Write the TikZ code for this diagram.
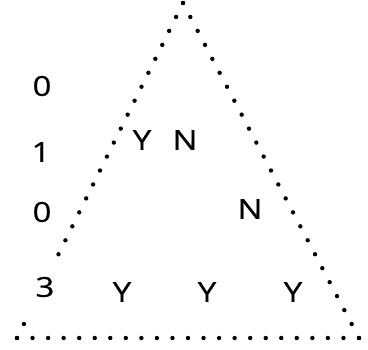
\documentclass[tikz,border=0pt]{standalone}
\usepackage{fontspec}
\setmainfont{Open Sans}[FakeStretch=1.2,FakeBold=0.6]
\usetikzlibrary{calc}
\begin{document}
\begin{tikzpicture}[x=1pt,y=-1pt,
  lbl/.style={inner sep=0pt,font=\fontsize{27.5}{30}\selectfont},
  dotmark/.style={fill=black}]
\useasboundingbox (0,0) rectangle (368,350);
\coordinate (A) at (183,3);
\coordinate (B) at (17,338);
\coordinate (C) at (359,338);
\foreach \i in {0,...,18,23,24} \fill[dotmark] ($(A)!\i/24!(B)$) circle (2.2);
\foreach \i in {0,...,24} \fill[dotmark] ($(A)!\i/24!(C)$) circle (2.2);
\foreach \i in {0,...,22} \fill[dotmark] ($(B)!\i/22!(C)$) circle (2.2);
\node[lbl] (r1) at (42,86) {0};
\node[lbl] (r2) at (41,152) {1};
\node[lbl] (r3) at (42,212) {0};
\node[lbl] (r4) at (45,287) {3};
\node[lbl] (y1) at (142,140) {Y};
\node[lbl] (n1) at (185,140) {N};
\node[lbl] (n2) at (250,209) {N};
\node[lbl] (y2) at (122,292) {Y};
\node[lbl] (y3) at (207,292) {Y};
\node[lbl] (y4) at (293,292) {Y};
\end{tikzpicture}
\end{document}
